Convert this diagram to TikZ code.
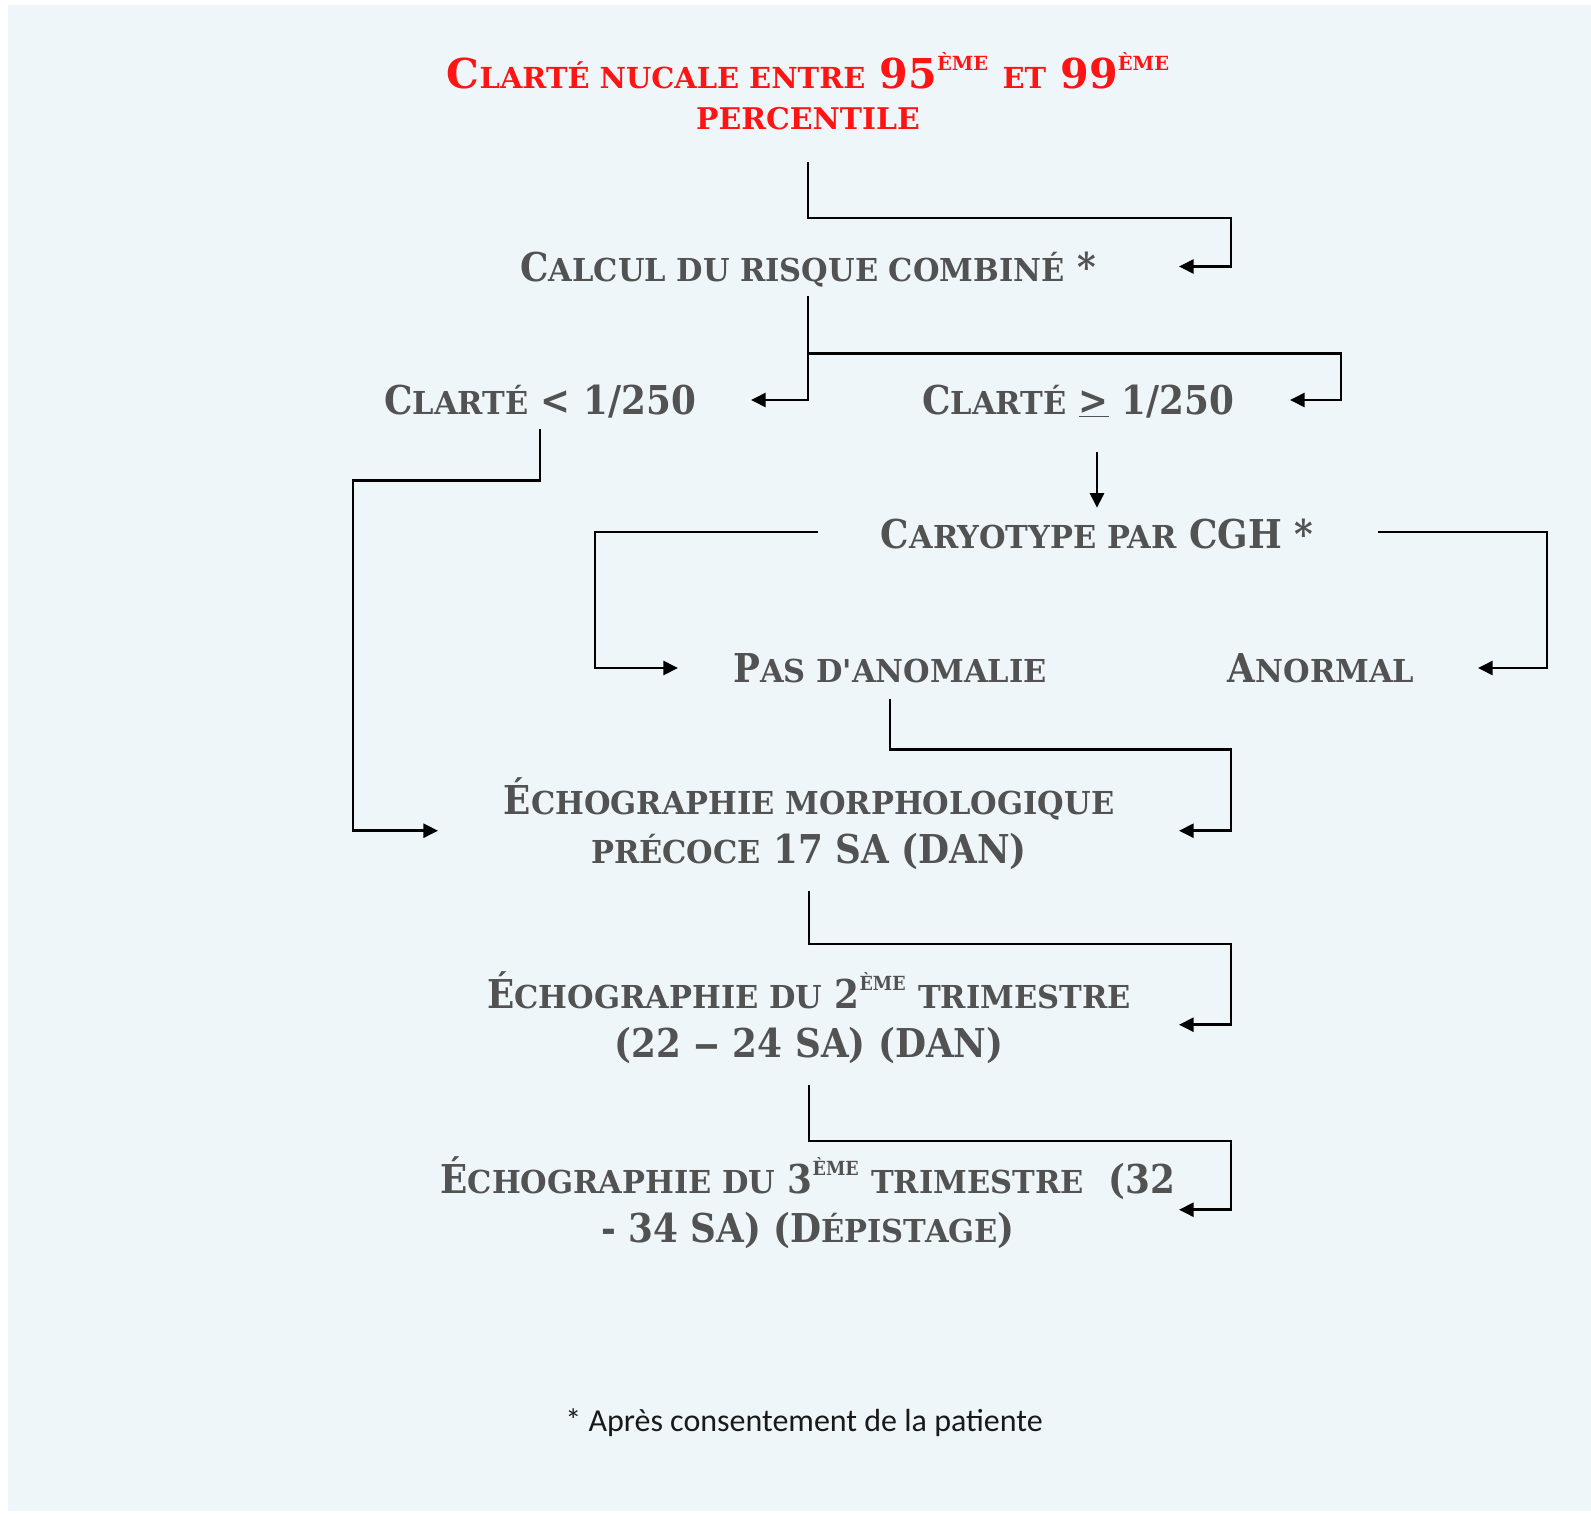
\documentclass[tikz,border=0pt]{standalone}
\usepackage{fontspec}
\usepackage{graphicx}
\usetikzlibrary{arrows.meta}
% slab serif faces: full capitals a little narrower than the small capitals
\newfontfamily\slabt{DejaVu Serif}
\newfontfamily\slab[FakeStretch=0.9]{DejaVu Serif}
\newfontfamily\slabsc[FakeStretch=0.965]{DejaVu Serif}
\newfontfamily\notefont{Carlito}
\definecolor{pagebg}{HTML}{EFF6FA}
\definecolor{inkgray}{HTML}{525252}
\definecolor{titlered}{HTML}{FF1414}
% small capitals standing in for lower-case letters
\newcommand\sm[1]{{\slabsc\fontsize{23.7}{23.7}\selectfont #1}}
\newcommand\tsm[1]{{\fontsize{21.7}{21.7}\selectfont #1}}
\newcommand\tsmb[1]{{\fontsize{22.4}{22.4}\selectfont #1}}
% raised ordinal ending
\newcommand\expo[1]{\raisebox{13.5pt}{\fontsize{14.6}{14.6}\selectfont #1}}
% wide dash between the week numbers
\newcommand\wdash{\scalebox{1.5}[1]{–}}
\tikzset{
  lbl/.style={font=\slab\bfseries\fontsize{29.8}{36.75}\selectfont, text=inkgray,
    inner sep=0pt, align=center},
  one/.style={lbl, text height=21.75pt, text depth=0pt},
  flow/.style={draw=black, line width=2pt, -{Triangle[length=11pt,width=10.5pt]}}
}
\begin{document}
\begin{tikzpicture}[x=0.75pt,y=-0.75pt]
\useasboundingbox (0,0) rectangle (1591,1513);
\fill[pagebg] (8,5) rectangle (1591,1511);

% rails and arrow-tip columns
\coordinate (railA) at (1231,0); \coordinate (tipA) at (1179,0);
\coordinate (railB) at (1341,0); \coordinate (tipB) at (1290,0);
\coordinate (tipC) at (751,0);
\coordinate (railL) at (353,0); \coordinate (tipL) at (438,0);
\coordinate (railCL) at (595,0); \coordinate (tipCL) at (678,0);
\coordinate (railCR) at (1547,0); \coordinate (tipCR) at (1478,0);

% labels
\node[lbl, font=\slabt\bfseries\fontsize{30.9}{30.75}\selectfont, text=titlered, anchor=south]
  (title) at (808,130)
  {C\tsm{LARTÉ NUCALE ENTRE} 95\expo{ÈME} \tsm{ET} 99\expo{ÈME}\\\tsmb{PERCENTILE}};
\node[one] (calc) at (808,266.5) {C\sm{ALCUL DU RISQUE COMBINÉ} *};
\node[one] (lt) at (540,400) {C\sm{LARTÉ} < 1/250};
\node[one] (ge) at (1078,400) {C\sm{LARTÉ} \underline{>} 1/250};
\node[one] (cary) at (1097,534) {C\sm{ARYOTYPE PAR} CGH *};
\node[one] (pas) at (890,668) {P\sm{AS D'ANOMALIE}};
\node[one] (anormal) at (1321,668) {A\sm{NORMAL}};
\node[lbl, anchor=south] (echo1) at (809,870)
  {É\sm{CHOGRAPHIE MORPHOLOGIQUE}\\\sm{PRÉCOCE} 17 SA (DAN)};
\node[lbl, anchor=south] (echo2) at (809,1064)
  {É\sm{CHOGRAPHIE DU} 2\expo{ÈME} \sm{TRIMESTRE}\\(22 \wdash{} 24 SA) (DAN)};
\node[lbl, anchor=south] (echo3) at (808,1249)
  {É\sm{CHOGRAPHIE DU} 3\expo{ÈME} \sm{TRIMESTRE}\ \ (32\\- 34 SA) (D\sm{ÉPISTAGE})};
\node[font=\notefont\fontsize{24}{24}\selectfont, text=black!90, inner sep=0pt, anchor=base]
  (note) at (804,1431) {* Après consentement de la patiente};

% entry points on the two-line labels
\coordinate (echo1-in) at ([yshift=-5.25pt]echo1.center);
\coordinate (echo2-in) at ([yshift=-5.25pt]echo2.center);
\coordinate (echo3-in) at ([yshift=-5.25pt]echo3.center);

% connectors
\draw[flow] (title.south) ++(0,32) -- ++(0,56) -| (railA |- calc) -- (tipA |- calc);
\draw[flow] (calc.south) ++(0,15) |- (tipC |- lt);
\draw[flow] (calc.south) ++(0,72) -| (railB |- ge) -- (tipB |- ge);
\draw[flow] (lt.south) ++(0,14) -- ++(0,52) -| (railL |- echo1-in) -- (tipL |- echo1-in);
\draw[flow] (ge.south -| cary.north) ++(0,37) -- ++(0,56);
\draw[flow] (cary.center) ++(-279,-2) -| (railCL |- pas) -- (tipCL |- pas);
\draw[flow] (cary.center) ++(281,-2) -| (railCR |- anormal) -- (tipCR |- anormal);
\draw[flow] (pas.south) ++(0,16) -- ++(0,51) -| (railA |- echo1-in) -- (tipA |- echo1-in);
\draw[flow] (echo1.south) ++(0,21) -- ++(0,53) -| (railA |- echo2-in) -- (tipA |- echo2-in);
\draw[flow] (echo2.south) ++(0,21) -- ++(0,56) -| (railA |- echo3-in) -- (tipA |- echo3-in);
\end{tikzpicture}
\end{document}
